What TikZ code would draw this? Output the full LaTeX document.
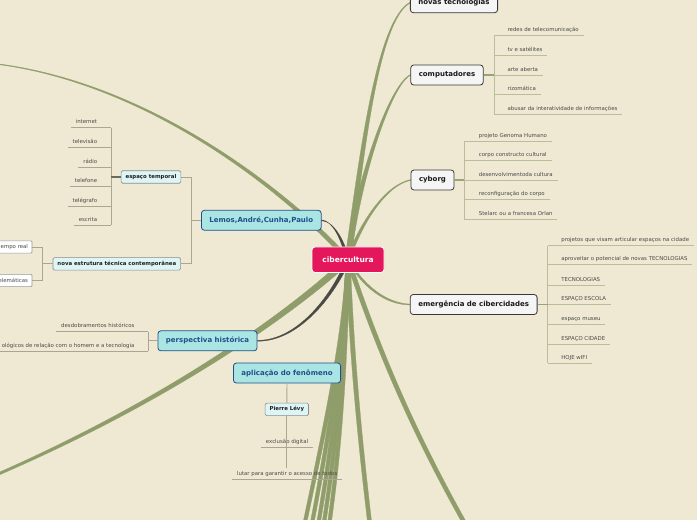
\documentclass[tikz,border=0pt]{standalone}
\usepackage{fontspec}
\setmainfont{DejaVu Sans}
\usetikzlibrary{positioning,calc,backgrounds}
\definecolor{paper}{HTML}{EFE8D3}
\definecolor{olive}{HTML}{8F9D6B}
\definecolor{slate}{HTML}{4A4A45}
\definecolor{rose}{HTML}{E4175D}
\definecolor{navy}{HTML}{234E8C}
\definecolor{aqua}{HTML}{A9E5E3}
\definecolor{ice}{HTML}{DDF5F4}
\definecolor{twig}{HTML}{BABD9B}
\definecolor{twigdark}{HTML}{98A476}
\definecolor{stem}{HTML}{ABA594}
\definecolor{stemdark}{HTML}{6E6A5E}
\definecolor{ink}{HTML}{4A4A4A}
% tapered branch: [colour] from, to, control 1, control 2, half width at start, half width at end
\newcommand{\limb}[7][olive]{%
  \filldraw[draw=#1, fill=#1, line width=0.3pt]
    ($(#2)+#6$) .. controls ($#4+0.67*#6+0.33*#7$) and ($#5+0.33*#6+0.67*#7$) .. ($(#3)+#7$)
    -- ($(#3)-#7$) .. controls ($#5-0.33*#6-0.67*#7$) and ($#4-0.67*#6-0.33*#7$) .. ($(#2)-#6$) -- cycle;}
\tikzset{
  root/.style={fill=rose, draw=white, line width=0.8pt, rounded corners=3pt, text=white,
    font=\fontsize{7.5}{9}\selectfont\bfseries, minimum width=72pt, minimum height=25.5pt},
  topic/.style={fill=black!4, draw=black!78, line width=0.8pt, rounded corners=3pt, text=black!90,
    font=\fontsize{7}{8}\selectfont\bfseries, inner xsep=8pt, minimum height=20pt},
  sub/.style={fill=aqua, draw=navy, line width=0.8pt, rounded corners=3pt, text=navy,
    font=\fontsize{7}{8}\selectfont\bfseries, inner xsep=8pt, minimum height=20pt},
  subsub/.style={fill=ice, draw=black!45, line width=0.6pt, rounded corners=1.5pt, text=black!88,
    font=\fontsize{5.4}{6.5}\selectfont\bfseries, inner xsep=4.5pt, minimum height=12.5pt},
  note/.style={fill=white, draw=black!40, line width=0.6pt, rounded corners=1pt, text=ink,
    font=\fontsize{5.4}{6.5}\selectfont, inner xsep=4pt, minimum height=12.3pt},
  leaf/.style={text=ink, font=\fontsize{5.4}{6.5}\selectfont, inner xsep=4.7pt, inner ysep=2.6pt,
    text height=4pt, text depth=1.2pt},
  twigline/.style={draw=twig, line width=0.9pt},
  twigstem/.style={draw=twigdark, line width=1.4pt},
  stemline/.style={draw=stem, line width=0.9pt},
  stemthick/.style={draw=stemdark, line width=1.6pt},
}
\begin{document}
\begin{tikzpicture}[x=1pt, y=-1pt]
\useasboundingbox (0,0) rectangle (697,520);
\clip (0,0) rectangle (697,520);

% centre and main topics
\node[root] (cib) at (348,259.7) {cibercultura};
\node[topic] (nov) at (454,2.7) {novas tecnologias};
\node[topic] (comp) at (447,75) {computadores};
\node[topic] (cyb) at (432.5,180) {cyborg};
\node[topic] (cid) at (473.7,304.5) {emergência de cibercidades};
\node[sub] (lem) at (261.3,220.3) {Lemos,André,Cunha,Paulo};
\node[sub] (per) at (207.5,340.8) {perspectiva histórica};
\node[sub] (apl) at (287,373) {aplicação do fenômeno};
\node[subsub] (esp) at (151,177) {espaço temporal};
\node[subsub] (est) at (116.8,263.8) {nova estrutura técnica contemporânea};
\node[subsub] (pie) at (286.8,409.3) {Pierre Lévy};
\node[note, anchor=east] (tre) at (32.3,247) {empo real};
\node[note, anchor=east] (tem) at (32.3,280.5) {elemáticas};

% computadores
\coordinate (ct) at (494,75);
\node[leaf, anchor=south west] (c1) at (502.7,35.3) {redes de telecomunicação};
\node[leaf, anchor=south west] (c2) at (502.7,55) {tv e satélites};
\node[leaf, anchor=south west] (c3) at (502.7,75) {arte aberta};
\node[leaf, anchor=south west] (c4) at (502.7,94.3) {rizomática};
\node[leaf, anchor=south west] (c5) at (502.7,114) {abusar da interatividade de informações};
\draw[twigline] (ct |- c1.south) -- (ct |- c5.south);
\draw[twigline] (ct |- c1.south) -- (c1.south east) (ct |- c2.south) -- (c2.south east)
  (ct |- c3.south) -- (c3.south east) (ct |- c4.south) -- (c4.south east)
  (ct |- c5.south) -- (c5.south east);
\draw[twigstem] (comp.east) -- (ct);

% cyborg
\coordinate (yt) at (464.3,180);
\node[leaf, anchor=south west] (y1) at (474,141) {projeto Genoma Humano};
\node[leaf, anchor=south west] (y2) at (474,160.7) {corpo constructo cultural};
\node[leaf, anchor=south west] (y3) at (474,180.3) {desenvolvimentoda cultura};
\node[leaf, anchor=south west] (y4) at (474,199.7) {reconfiguração do corpo};
\node[leaf, anchor=south west] (y5) at (474,219) {Stelarc ou a francesa Orlan};
\draw[twigline] (yt |- y1.south) -- (yt |- y5.south);
\draw[twigline] (yt |- y1.south) -- (y1.south east) (yt |- y2.south) -- (y2.south east)
  (yt |- y3.south) -- (y3.south east) (yt |- y4.south) -- (y4.south east)
  (yt |- y5.south) -- (y5.south east);
\draw[twigstem] (cyb.east) -- (yt);

% cibercidades
\coordinate (et) at (547.7,304.5);
\node[leaf, anchor=south west] (e1) at (556.5,245.7) {projetos que visam articular espaços na cidade};
\node[leaf, anchor=south west] (e2) at (556.5,264.7) {aproveitar o potencial de novas TECNOLOGIAS};
\node[leaf, anchor=south west] (e3) at (556.5,285) {TECNOLOGIAS};
\node[leaf, anchor=south west] (e4) at (556.5,304.3) {ESPAÇO ESCOLA};
\node[leaf, anchor=south west] (e5) at (556.5,324.3) {espaço museu};
\node[leaf, anchor=south west] (e6) at (556.5,344) {ESPAÇO CIDADE};
\node[leaf, anchor=south west] (e7) at (556.5,363.3) {HOJE wIFI};
\draw[twigline] (et |- e1.south) -- (et |- e7.south);
\draw[twigline] (et |- e1.south) -- (e1.south east) (et |- e2.south) -- (e2.south east)
  (et |- e3.south) -- (e3.south east) (et |- e4.south) -- (e4.south east)
  (et |- e5.south) -- (e5.south east) (et |- e6.south) -- (e6.south east)
  (et |- e7.south) -- (e7.south east);
\draw[twigstem] (cid.east) -- (et);

% espaco temporal
\coordinate (st) at (111.3,177);
\node[leaf, anchor=south east] (s1) at (102,127.7) {internet};
\node[leaf, anchor=south east] (s2) at (102,147.7) {televisão};
\node[leaf, anchor=south east] (s3) at (102,167.3) {rádio};
\node[leaf, anchor=south east] (s4) at (102,186.7) {telefone};
\node[leaf, anchor=south east] (s5) at (102,206.3) {telégrafo};
\node[leaf, anchor=south east] (s6) at (102,225.3) {escrita};
\draw[stemline] (st |- s1.south) -- (st |- s6.south);
\draw[stemline] (s1.south west) -- (st |- s1.south) (s2.south west) -- (st |- s2.south)
  (s3.south west) -- (st |- s3.south) (s4.south west) -- (st |- s4.south)
  (s5.south west) -- (st |- s5.south) (s6.south west) -- (st |- s6.south);
\draw[stemthick] (esp.west) -- (st);

% Lemos
\coordinate (lt) at (191.7,220.3);
\draw[stemline] (lem.west) -- (lt);
\draw[stemline] (esp.east) -- (lt |- esp.east) -- (lt |- est.east) -- (est.east);

% nova estrutura
\coordinate (nt) at (42.7,263.8);
\draw[stemline] (est.west) -- (nt);
\draw[stemline] (tre.east) -- (nt |- tre.east) -- (nt |- tem.east) -- (tem.east);

% perspectiva historica
\coordinate (pt) at (148.3,340.8);
\node[leaf, anchor=south east] (p1) at (139.3,331.5) {desdobramentos históricos};
\node[leaf, anchor=south east] (p2) at (139.3,351) {ológicos de relação com o homem e a tecnologia};
\draw[stemline] (pt |- p1.south) -- (pt |- p2.south);
\draw[stemline] (p1.south west) -- (pt |- p1.south) (p2.south west) -- (pt |- p2.south);
\draw[stemline, line width=1.2pt] (per.west) -- (pt);

% aplicacao do fenomeno
\node[leaf, anchor=south] (ex) at (287,447.3) {exclusão digital};
\node[leaf, anchor=south] (lu) at (287.2,479) {lutar para garantir o acesso de todos};
\draw[stemline] (ex.south west) -- (ex.south east);
\draw[stemline] (lu.south west) -- (lu.south east);
\draw[stemline] (apl.south) -- (pie.north);
\draw[stemline] (pie.south) -- (pie.south |- ex.south) -- (pie.south |- lu.north);

% branches
\begin{scope}[on background layer]
\fill[paper] (0,0) rectangle (697,520);
\coordinate (ul) at (-3,64);
\coordinate (ll) at (-4,475);
\coordinate (d1) at (291,590);
\coordinate (d2) at (299,590);
\coordinate (d3) at (306,590);
\coordinate (d4) at (312,590);
\coordinate (d5) at (318,590);
\coordinate (d6) at (378,590);
\coordinate (d7) at (480,550);
\limb{cib}{ul}{(300,205)}{(160,85)}{(1.8,-1.6)}{(0,-0.3)}
\limb{cib}{ll}{(300,305)}{(180,395)}{(2,2.8)}{(0.7,1)}
\limb{cib}{d1}{(345,350)}{(315,470)}{(2.2,0)}{(1.8,0)}
\limb{cib}{d2}{(345,350)}{(323,470)}{(2.2,0)}{(1.8,0)}
\limb{cib}{d3}{(345,350)}{(330,470)}{(2.2,0)}{(1.8,0)}
\limb{cib}{d4}{(345,350)}{(336,470)}{(2.2,0)}{(1.8,0)}
\limb{cib}{d5}{(345,350)}{(342,470)}{(2.2,0)}{(1.8,0)}
\limb{cib}{d6}{(352,360)}{(360,450)}{(2.3,0)}{(2,0)}
\limb{cib}{d7}{(375,340)}{(410,430)}{(2.2,-0.5)}{(1.8,-0.9)}
\limb{cib}{nov.west}{(362,150)}{(378,20)}{(3,0)}{(0,0.4)}
\limb{cib}{comp.west}{(358,180)}{(390,85)}{(3,0)}{(0,0.4)}
\limb{cib}{cyb.west}{(360,225)}{(385,185)}{(2,0)}{(0,0.4)}
\limb{cib}{cid.west}{(362,285)}{(385,304)}{(0,2)}{(0,0.4)}
\limb[slate]{cib}{lem.east}{(342,238)}{(333,221)}{(1.8,0)}{(0,0.4)}
\limb[slate]{cib}{per.east}{(335,292)}{(300,341)}{(1.8,0.8)}{(0,0.4)}
\end{scope}
\end{tikzpicture}
\end{document}
